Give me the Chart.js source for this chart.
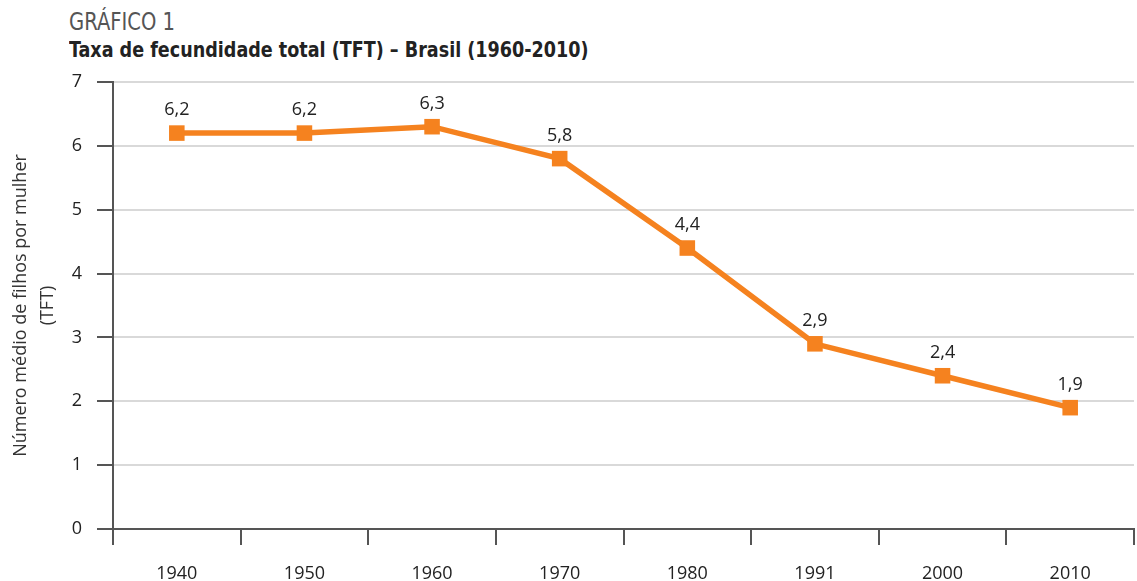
<!DOCTYPE html>
<html lang="pt-BR">
<head>
<meta charset="utf-8">
<script src="https://cdn.jsdelivr.net/npm/chart.js@4.4.1/dist/chart.umd.min.js"></script>
<style>
  html, body { margin: 0; padding: 0; background: #fff; overflow: hidden; }
  #wrap { position: relative; width: 1137px; height: 581px; }
  #cv { position: absolute; left: 0; top: 0; }
  .kicker {
    position: absolute; left: 69px; top: 7px;
    font-family: "DejaVu Sans Condensed", sans-serif;
    font-size: 25px; color: #555; white-space: nowrap;
    transform: scaleX(0.87); transform-origin: left top;
  }
  .headline {
    position: absolute; left: 69px; top: 38px;
    font-family: "DejaVu Sans Condensed", sans-serif;
    font-weight: bold; font-size: 21px; color: #222; white-space: nowrap;
    transform: scaleX(0.93); transform-origin: left top;
  }
</style>
</head>
<body>
<div id="wrap">
  <div class="kicker">GRÁFICO 1</div>
  <div class="headline">Taxa de fecundidade total (TFT) – Brasil (1960-2010)</div>
  <canvas id="cv" width="1145" height="581"></canvas>
</div>
<script>
const anos = ["1940", "1950", "1960", "1970", "1980", "1991", "2000", "2010"];
const tft = [6.2, 6.2, 6.3, 5.8, 4.4, 2.9, 2.4, 1.9];
const yTicks = [0, 1, 2, 3, 4, 5, 6, 7];

const laranja = "#f5821f";
const eixo = "#555555";
const fonte = "'Open Sans', sans-serif";

// rótulos de valor acima de cada ponto
const rotulos = {
  id: "rotulos",
  afterDatasetsDraw(chart) {
    const ctx = chart.ctx;
    const meta = chart.getDatasetMeta(0);
    ctx.save();
    ctx.font = "18px " + fonte;
    ctx.fillStyle = "#222";
    ctx.textAlign = "center";
    ctx.textBaseline = "middle";
    meta.data.forEach((pt, i) => {
      const txt = tft[i].toFixed(1).replace(".", ",");
      ctx.fillText(txt, pt.x, pt.y - 23);
    });
    ctx.restore();
  }
};

new Chart(document.getElementById("cv"), {
  type: "line",
  data: {
    labels: anos,
    datasets: [{
      data: tft,
      borderColor: laranja,
      backgroundColor: laranja,
      borderWidth: 5.5,
      pointStyle: "rect",
      pointRadius: 11,
      pointBorderWidth: 0,
      pointBackgroundColor: laranja,
      tension: 0
    }]
  },
  options: {
    responsive: false,
    animation: false,
    layout: { padding: { top: 82, left: 0, right: 0, bottom: 0 } },
    plugins: {
      legend: { display: false },
      tooltip: { enabled: false }
    },
    scales: {
      x: {
        offset: true,
        grid: {
          offset: true,
          drawOnChartArea: false,
          drawTicks: true,
          tickLength: 16,
          tickColor: eixo,
          lineWidth: 2
        },
        border: { color: eixo, width: 2 },
        ticks: {
          color: "#222",
          font: { family: fonte, size: 18 },
          padding: 18,
          maxRotation: 0
        },
        afterFit(s) { s.height = 52; }
      },
      y: {
        min: 0,
        max: 7,
        afterBuildTicks(s) { s.ticks = yTicks.map(v => ({ value: v })); },
        grid: {
          color: "#d9d9d9",
          lineWidth: 2,
          tickLength: 16,
          tickColor: eixo
        },
        border: { color: eixo, width: 2 },
        ticks: {
          color: "#222",
          font: { family: fonte, size: 18 },
          padding: 15
        },
        title: {
          display: true,
          text: ["Número médio de filhos por mulher", "(TFT)"],
          color: "#333",
          font: { family: fonte, size: 18, lineHeight: 1.5 },
          padding: { top: 7, bottom: 0 }
        },
        afterFit(s) { s.width = 113; }
      }
    }
  },
  plugins: [rotulos]
});
</script>
</body>
</html>
